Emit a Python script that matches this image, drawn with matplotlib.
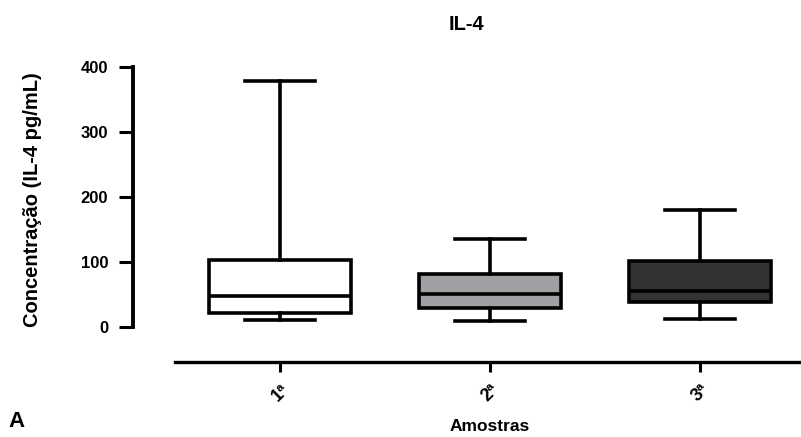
import matplotlib
matplotlib.use("Agg")
import matplotlib.pyplot as plt

plt.rcParams["font.family"] = ["Liberation Sans", "DejaVu Sans"]

# valores (pg/mL)
amostras = ["1ª", "2ª", "3ª"]
minimo = [11, 10, 12]
q1 = [22, 29, 39]
mediana = [47, 51, 55]
q3 = [103, 81, 101]
maximo = [378, 135, 180]
cores = ["#ffffff", "#a0a0a4", "#333333"]

stats = [
    dict(label=a, whislo=lo, q1=b, med=m, q3=t, whishi=hi)
    for a, lo, b, m, t, hi in zip(amostras, minimo, q1, mediana, q3, maximo)
]

W, H = 801, 437
fig = plt.figure(figsize=(W / 100, H / 100), dpi=100)
ax = fig.add_axes([175 / W, 110 / H, 630 / W, 260 / H])

lw = 2.6
bp = ax.bxp(
    stats,
    positions=range(1, len(stats) + 1),
    widths=0.68,
    capwidths=0.333,
    patch_artist=True,
    showfliers=False,
    boxprops=dict(linewidth=lw, edgecolor="black"),
    whiskerprops=dict(linewidth=lw, color="black"),
    capprops=dict(linewidth=lw, color="black"),
    medianprops=dict(linewidth=lw, color="black"),
)
for patch, cor in zip(bp["boxes"], cores):
    patch.set_facecolor(cor)

ax.set_xlim(0.5, 3.5)
ax.set_ylim(0, 400)
ax.set_yticks(range(0, 401, 100))

for side in ("top", "right"):
    ax.spines[side].set_visible(False)
ax.spines["left"].set_position(("outward", 30))
ax.spines["bottom"].set_position(("outward", 25))
ax.spines["left"].set_linewidth(2.8)
ax.spines["bottom"].set_linewidth(2.4)

ax.tick_params(axis="y", length=10, width=2.2, pad=8, labelsize=12)
ax.tick_params(axis="x", length=7, width=2.2, pad=7, labelsize=13)
for lbl in ax.get_yticklabels():
    lbl.set_fontweight("bold")
ax.set_xticks(range(1, len(amostras) + 1))
ax.set_xticklabels(amostras, rotation=45, ha="right", rotation_mode="anchor",
                   fontweight="bold")

ax.set_ylabel("Concentração (IL-4 pg/mL)", fontsize=14.5, fontweight="bold")
ax.yaxis.set_label_coords(-0.211, 0.488)
ax.set_xlabel("Amostras", fontsize=12.5, fontweight="bold")
ax.xaxis.set_label_coords(0.5, -0.352)

fig.text(466 / W, 1 - 25 / H, "IL-4", ha="center", va="center",
         fontsize=14.5, fontweight="bold")
fig.text(8 / W, 1 - 427 / H, "A", ha="left", va="baseline",
         fontsize=16, fontweight="bold")

fig.savefig("out.png", dpi=100)
